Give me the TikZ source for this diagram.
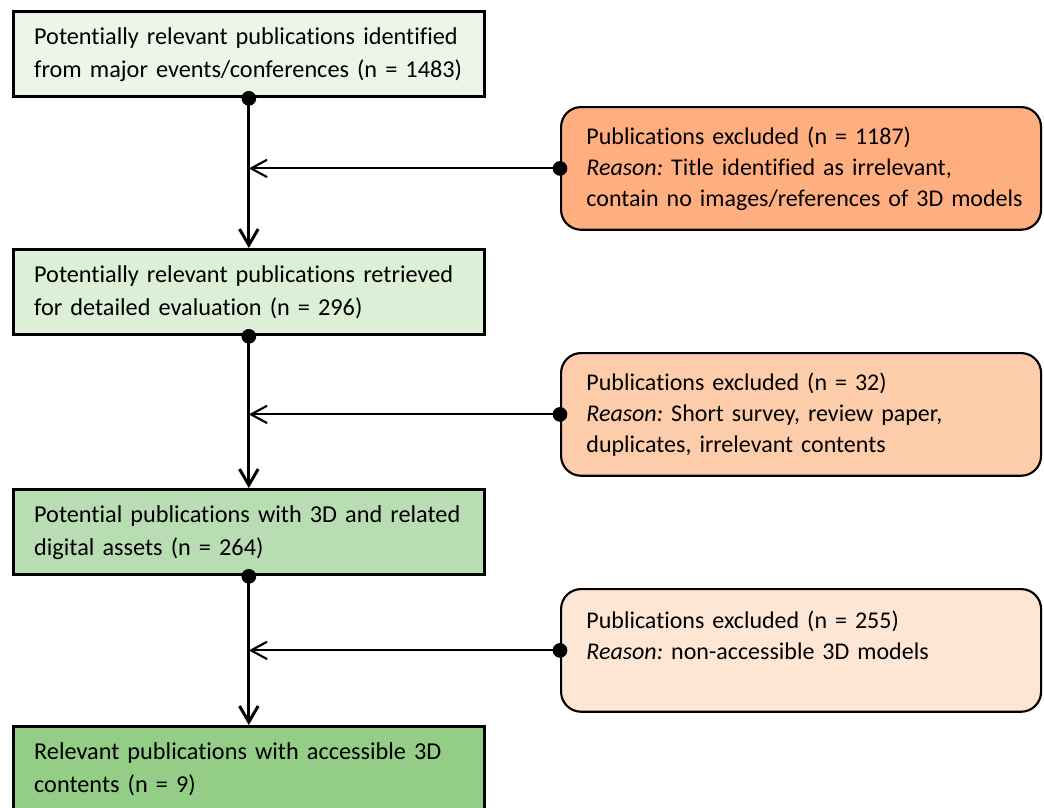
\documentclass[tikz,border=0pt]{standalone}
\usepackage{fontspec}
\setmainfont[Ligatures={NoCommon}]{Carlito}
\usetikzlibrary{arrows.meta, positioning}
\definecolor{gA}{HTML}{EDF5E8}
\definecolor{gB}{HTML}{DCEFD7}
\definecolor{gC}{HTML}{B9DDB2}
\definecolor{gD}{HTML}{93CD86}
\definecolor{oA}{HTML}{FFAF7F}
\definecolor{oB}{HTML}{FDCDAB}
\definecolor{oC}{HTML}{FDE6D4}
\tikzset{
  stage/.style={draw=black, line width=2.25pt, anchor=north west, align=left,
    text width=322pt, inner xsep=15.5pt, minimum height=64pt, font=\fontsize{18.2}{24.75}\selectfont},
  excl/.style={draw=black, line width=1.6pt, rounded corners=15pt, anchor=north west, align=left,
    text width=322pt, inner xsep=19pt, minimum height=92pt, font=\fontsize{18}{23.2}\selectfont,
    execute at begin node={\hbadness=10000\relax\hfuzz=50pt\relax}},
  flow/.style={line width=2.25pt, shorten <=-5.5pt, {Circle[length=11pt]}-{Straight Barb[length=12pt,width=14pt,line width=2.25pt]}},
  feed/.style={line width=1.6pt, shorten <=-5.5pt, {Circle[length=11pt]}-{Straight Barb[length=12pt,width=13pt,line width=1.6pt]}}
}
\begin{document}
\begin{tikzpicture}[x=0.75pt,y=-0.75pt]
\useasboundingbox (0,0) rectangle (1044,807);
\def\lx{12}
\def\rx{560}
%stages (left)
\node[stage, fill=gA] (in1) at (\lx,10) {Potentially relevant publications identified\\ from major events/conferences (n = 1483)};
\node[stage, fill=gB] (in2) at (\lx,248) {Potentially relevant publications retrieved\\ for detailed evaluation (n = 296)};
\node[stage, fill=gC] (in3) at (\lx,488) {Potential publications with 3D and related\\ digital assets (n = 264)};
\node[stage, fill=gD] (in4) at (\lx,725) {Relevant publications with accessible 3D\\ contents (n = 9)};
%exclusions (right)
\node[excl, fill=oA] (ex1) at (\rx,106) {Publications excluded (n = 1187)\\ \textit{Reason:}~Title identified as irrelevant,\\ \mbox{contain no images/references of 3D models}};
\node[excl, fill=oB] (ex2) at (\rx,352) {Publications excluded (n = 32)\\ \textit{Reason:}~Short survey, review paper,\\ duplicates, irrelevant contents};
\node[excl, fill=oC] (ex3) at (\rx,588) {Publications excluded (n = 255)\\ \textit{Reason:}~non-accessible 3D models\\ \mbox{}};
%joins on the main line
\foreach \i in {1,2,3} \coordinate (j\i) at (ex\i.west -| in\i.south);
\foreach \i/\n in {1/2,2/3,3/4} \draw[flow] (in\i.south) -- (in\n.north);
\foreach \i in {1,2,3} \draw[feed] (ex\i.west) -- (j\i);
\end{tikzpicture}
\end{document}
